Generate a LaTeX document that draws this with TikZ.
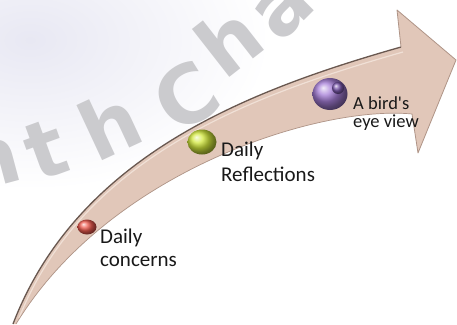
\documentclass[tikz,border=0pt]{standalone}
\usepackage{fontspec}
\setmainfont{Carlito}
\newfontfamily\wmfont{DejaVu Sans}
\usetikzlibrary{shapes.geometric}
\definecolor{arrowfill}{RGB}{225,199,185}
\definecolor{arrowdark}{RGB}{105,88,80}
\definecolor{arrowmid}{RGB}{175,148,135}
\definecolor{arrowlight}{RGB}{240,224,214}
\definecolor{wm}{RGB}{203,203,206}
\definecolor{bgtint}{RGB}{232,232,243}
\definecolor{txt}{RGB}{25,25,25}
\begin{document}
\begin{tikzpicture}[x=1pt,y=-1pt,
  txtlbl/.style={font=\fontsize{21}{23}\selectfont, align=left, inner sep=0pt, anchor=north west, text=txt},
  wmletter/.style={font=\wmfont\bfseries\fontsize{80}{80}\selectfont, text=wm, inner sep=0pt},
  sphere/.style={ellipse, draw=none, shading=ball, inner sep=0pt}]
\useasboundingbox (0,0) rectangle (457,324);
\clip (0,0) rectangle (457,324);
\fill[white] (0,0) rectangle (457,324);
\shade[inner color=bgtint, outer color=white] (30,40) ellipse (240 and 150);
% watermark
\node[wmletter, rotate=15] (w1) at (-8,164) {n};
\node[wmletter, rotate=20] (w2) at (46,150) {t};
\node[wmletter, rotate=25] (w3) at (109,124) {h};
\node[wmletter, rotate=32] (w4) at (186,96) {C};
\node[wmletter, rotate=38] (w5) at (228,40) {h};
\node[wmletter, rotate=45] (w6) at (284,10) {a};
% arrow body
\fill[arrowfill] (13,324) .. controls (78,155) and (250,90) .. (401,47)
  -- (397,10) -- (456,60) -- (418,153) -- (412,114)
  .. controls (320,105) and (110,170) .. (16,324) -- cycle;
\draw[arrowlight, line width=1.2pt] (19,318) .. controls (84,156) and (252,95) .. (403,52);
\draw[arrowdark, line width=1.3pt] (13,324) .. controls (78,155) and (250,90) .. (401,47);
\draw[arrowmid, line width=0.8pt, line join=round] (401,47) -- (397,10) -- (456,60) -- (418,153) -- (412,114);
\draw[arrowmid, line width=0.7pt] (412,114) .. controls (320,105) and (110,170) .. (16,324);
% spheres
\node[sphere, ball color={rgb,255:red,238;green,90;blue,78}, minimum width=19pt, minimum height=15pt] (s1) at (87,227) {};
\node[sphere, ball color={rgb,255:red,210;green,232;blue,60}, minimum width=29pt, minimum height=25pt] (s2) at (202,142) {};
\node[sphere, ball color={rgb,255:red,165;green,125;blue,215}, minimum width=35pt, minimum height=32pt] (s3) at (330,94) {};
\node[sphere, ball color={rgb,255:red,125;green,90;blue,175}, minimum width=12pt, minimum height=12pt] (s3in) at (338,88) {};
% labels
\node[txtlbl] (t1) at (100,229) {Daily\\concerns};
\node[txtlbl, font=\fontsize{21}{25}\selectfont] (t2) at (221,142) {Daily\\Reflections};
\node[txtlbl, font=\fontsize{18.5}{18}\selectfont] (t3) at (353,96) {A bird\textquotesingle s\\eye view};
\end{tikzpicture}
\end{document}
